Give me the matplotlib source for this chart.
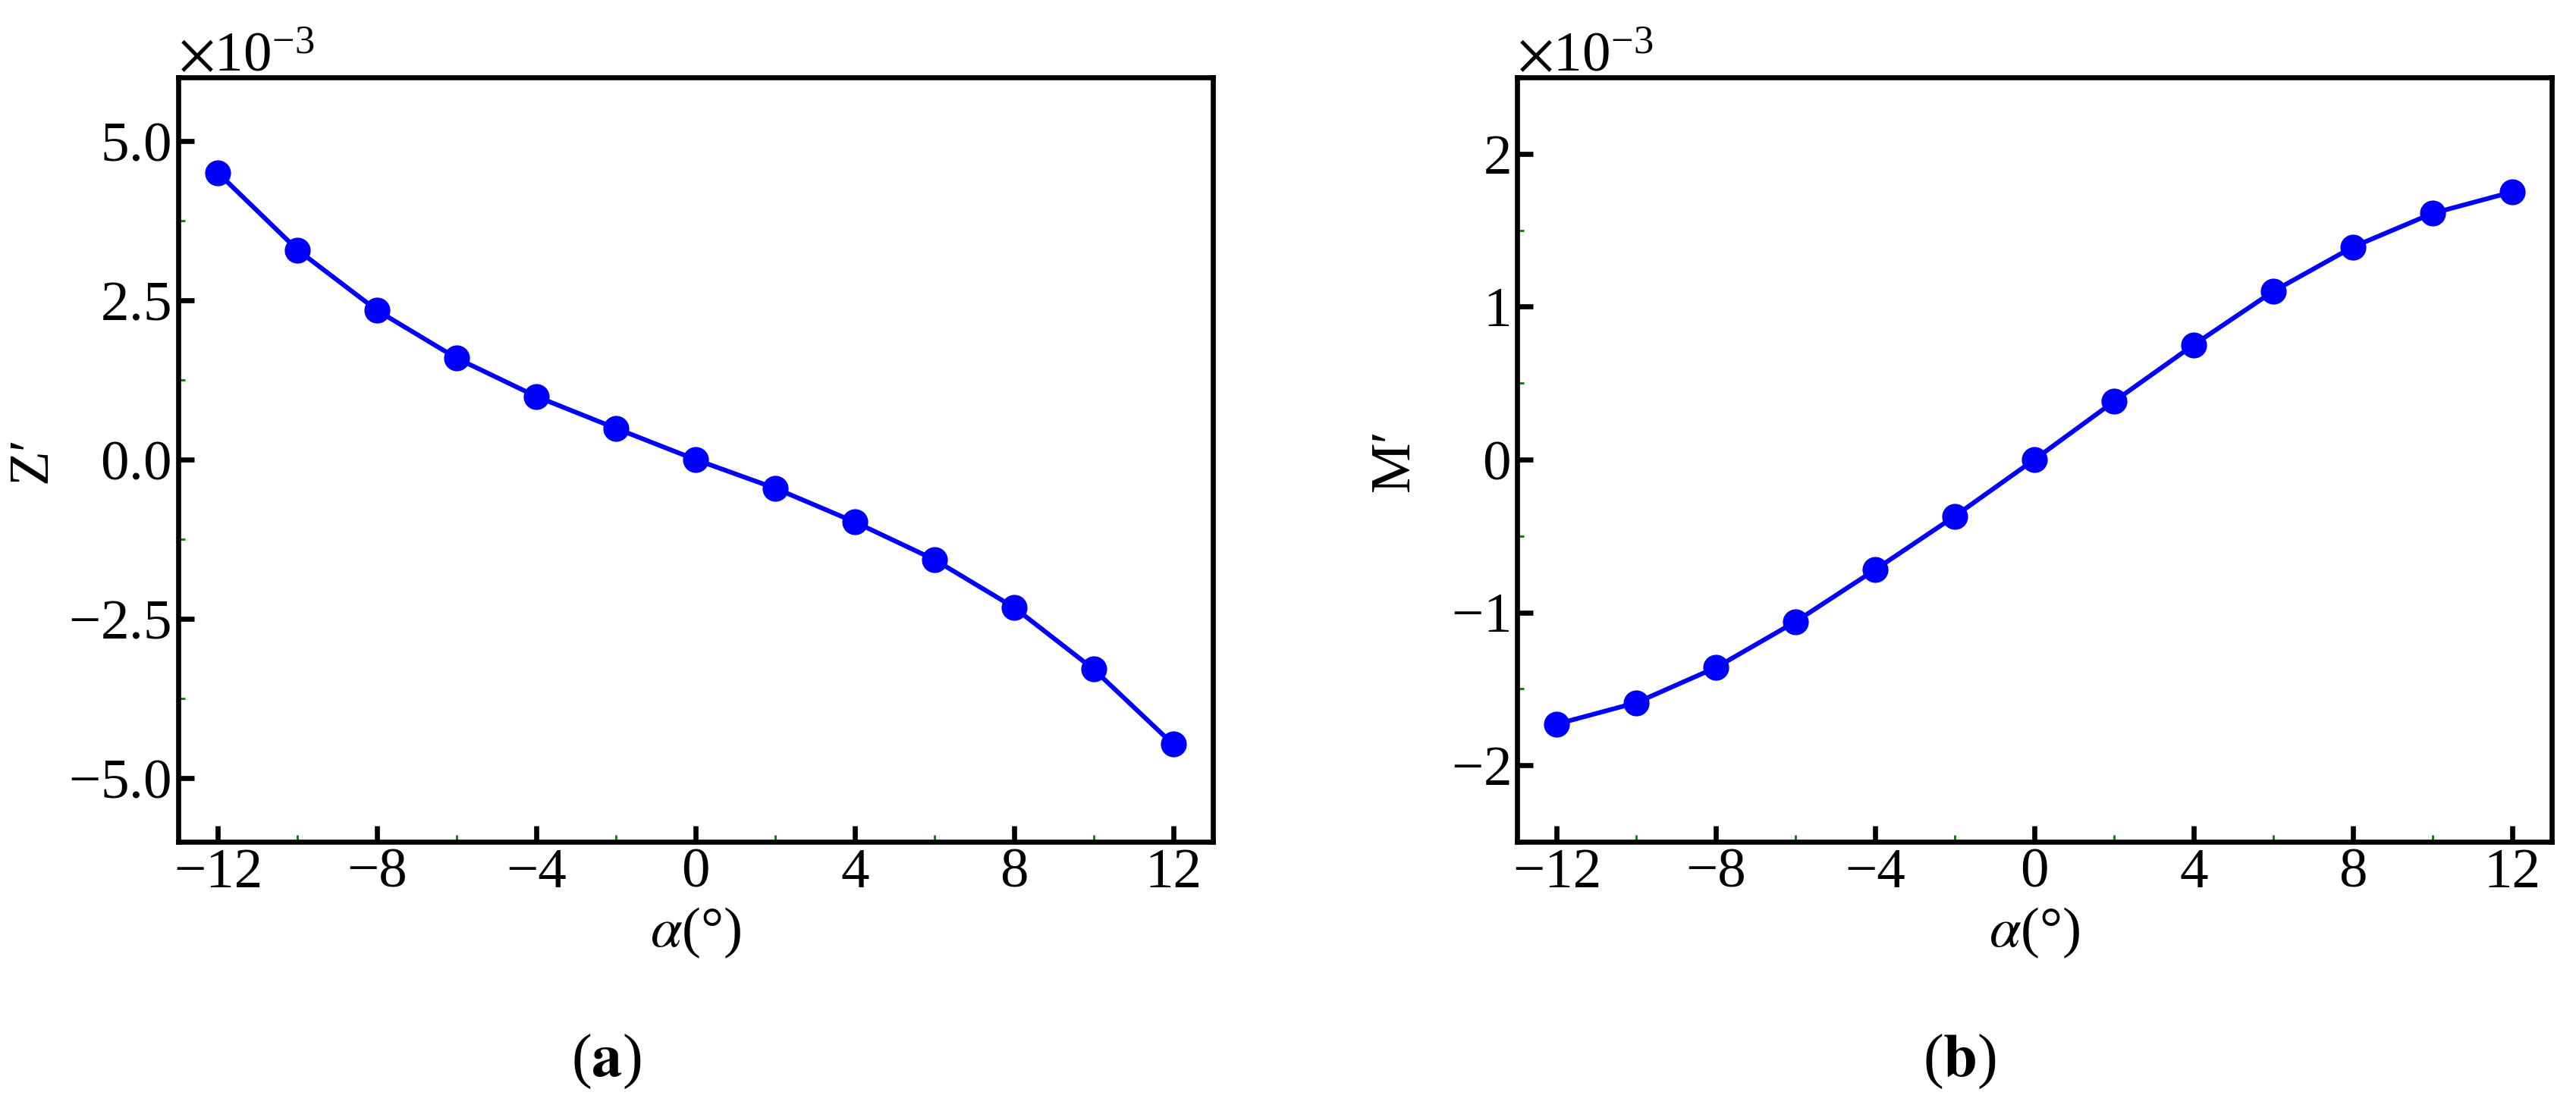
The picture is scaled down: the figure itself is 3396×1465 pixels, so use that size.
import numpy as np
import matplotlib
matplotlib.use("Agg")
import matplotlib.pyplot as plt
from matplotlib.ticker import MultipleLocator, ScalarFormatter

plt.rcParams["font.family"] = ["Liberation Serif", "DejaVu Serif"]
plt.rcParams["mathtext.fontset"] = "stix"
plt.rcParams["axes.unicode_minus"] = True

# angle of attack (deg)
alpha = [-12, -10, -8, -6, -4, -2, 0, 2, 4, 6, 8, 10, 12]
# Z' and M' in units of 1e-3
z_prime = [4.50, 3.29, 2.34, 1.59, 0.99, 0.49, 0.0, -0.45, -0.98, -1.57, -2.32, -3.29, -4.47]
m_prime = [-1.73, -1.59, -1.36, -1.06, -0.72, -0.37, 0.0, 0.38, 0.75, 1.10, 1.39, 1.61, 1.75]

FS = 27
W, H = 3396, 1465
fig = plt.figure(figsize=(W / 200, H / 200), dpi=200)

ax_a = fig.add_axes([235 / W, 1 - 1110 / H, 1364 / W, 1008 / H])
ax_b = fig.add_axes([2000 / W, 1 - 1110 / H, 1364 / W, 1008 / H])


def style_axis(ax, y, ylabel, ylim, ymaj, ymin, label_x):
    ax.plot(alpha, np.array(y) * 1e-3, color="blue", lw=2.2,
            marker="o", ms=11.3, mfc="blue", mec="blue")
    ax.set_xlim(-13, 13)
    ax.set_ylim(ylim[0] * 1e-3, ylim[1] * 1e-3)
    ax.xaxis.set_major_locator(MultipleLocator(4))
    ax.xaxis.set_minor_locator(MultipleLocator(2))
    ax.yaxis.set_major_locator(MultipleLocator(ymaj * 1e-3))
    ax.yaxis.set_minor_locator(MultipleLocator(ymin * 1e-3))
    fmt = ScalarFormatter(useMathText=True)
    fmt.set_powerlimits((-3, -3))
    ax.yaxis.set_major_formatter(fmt)
    ax.yaxis.get_offset_text().set_fontsize(FS)

    for s in ax.spines.values():
        s.set_linewidth(2.4)
    ax.tick_params(which="major", direction="in", length=7.5, width=2.4,
                   labelsize=FS, color="black", top=False, right=False)
    ax.tick_params(which="minor", direction="in", length=3.2, width=1.0,
                   color="green", top=False, right=False)
    ax.tick_params(axis="y", which="major", pad=3.5)
    ax.tick_params(axis="x", which="major", pad=3)

    ax.set_xlabel(r"$\alpha$(°)", fontsize=FS)
    ax.xaxis.set_label_coords(0.5, -0.084)
    ax.set_ylabel(ylabel, fontsize=FS)
    ax.yaxis.set_label_coords(label_x, 0.5)
    ax.yaxis.label.set_va("center")


style_axis(ax_a, z_prime, "Z\u2032", (-6, 6), 2.5, 1.25, -0.141)
style_axis(ax_b, m_prime, "M\u2032", (-2.5, 2.5), 1, 0.5, -0.118)

fig.text(799 / W, 1 - 1400 / H, r"($\mathbf{a}$)", fontsize=29, ha="center", va="center")
fig.text(2583 / W, 1 - 1400 / H, r"($\mathbf{b}$)", fontsize=29, ha="center", va="center")

fig.savefig("out.png", dpi=200)
